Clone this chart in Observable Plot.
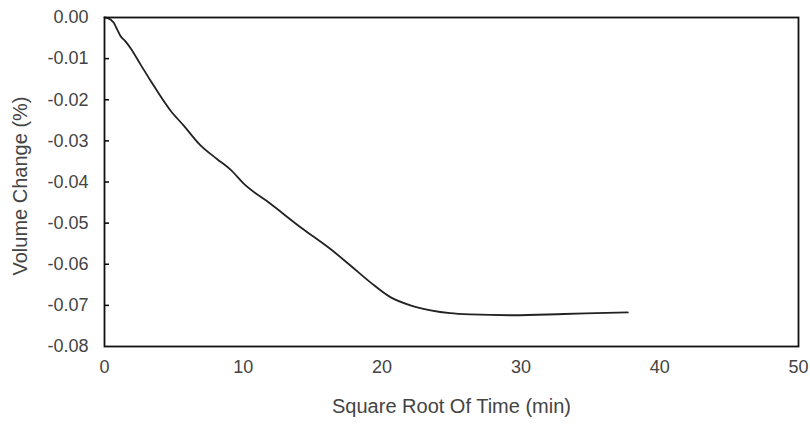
<!DOCTYPE html>
<html>
<head>
<meta charset="utf-8">
<script src="https://cdn.jsdelivr.net/npm/d3@7"></script>
<script src="https://cdn.jsdelivr.net/npm/@observablehq/plot@0.6"></script>
<style>
  html, body { margin: 0; padding: 0; background: #fff; }
  svg { display: block; }
</style>
</head>
<body>
<div id="chart"></div>
<script>
const sqrtTime = [0, 0.19, 0.67, 0.91, 1.15, 1.51, 1.87, 2.59, 3.31, 4.75, 5.71, 6.92, 8.1, 9.08, 10.03, 11.96, 14.12, 16.28, 17.72, 19.16, 20.6, 22.04, 23.5, 24.9, 26.4, 29.5, 33.1, 37.7];
const volumeChange = [0, -0.0001, -0.0013, -0.0029, -0.0045, -0.0058, -0.0074, -0.0114, -0.0153, -0.0226, -0.0263, -0.0311, -0.0344, -0.0370, -0.0404, -0.0453, -0.0510, -0.0563, -0.0603, -0.0644, -0.0680, -0.0700, -0.0712, -0.0719, -0.0722, -0.0724, -0.0721, -0.0717];
const xTicks = [0, 10, 20, 30, 40, 50];
const yTicks = [0, -0.01, -0.02, -0.03, -0.04, -0.05, -0.06, -0.07, -0.08];

const data = sqrtTime.map((x, i) => ({x, y: volumeChange[i]}));

const chart = Plot.plot({
  width: 810,
  height: 434,
  marginLeft: 104,
  marginRight: 12,
  marginTop: 17,
  marginBottom: 88,
  style: {fontFamily: "Liberation Sans, Arial, sans-serif", fontSize: "18px", color: "#444", background: "#fff"},
  x: {domain: [0, 50]},
  y: {domain: [-0.08, 0]},
  marks: [
    Plot.axisX({ticks: xTicks, tickSize: 0, tickPadding: 14, tickFormat: d => d.toString(), label: null, fill: "#444", fontSize: 18}),
    Plot.axisY({ticks: yTicks, tickSize: 0, tickPadding: 16, tickFormat: d => d.toFixed(2), label: null, fill: "#444", fontSize: 18}),
    Plot.axisY({ticks: yTicks.slice(1, -1), tickSize: 5, dx: 5, text: null, stroke: "#000", strokeWidth: 1.5, label: null}),
    Plot.text(["Square Root Of Time (min)"], {frameAnchor: "bottom", dy: 66, fontSize: 20, fill: "#444"}),
    Plot.text(["Volume Change (%)"], {frameAnchor: "left", dx: -84, dy: 4, rotate: -90, textAnchor: "middle", fontSize: 20, fill: "#444"}),
    Plot.line(data, {x: "x", y: "y", stroke: "#222", strokeWidth: 1.8, curve: "monotone-x"}),
    Plot.frame({stroke: "#111", strokeWidth: 1.8})
  ]
});
document.getElementById("chart").append(chart);
</script>
</body>
</html>
